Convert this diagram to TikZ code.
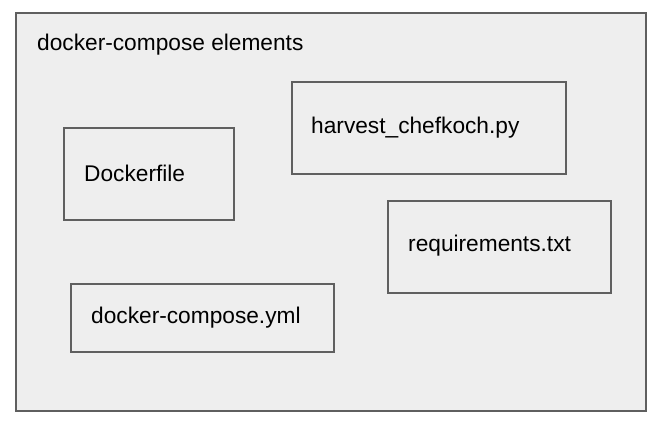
\documentclass[tikz,border=0pt]{standalone}
\usepackage{fontspec}
\setmainfont{Liberation Sans}
\definecolor{boxfill}{HTML}{EEEEEE}
\definecolor{boxline}{HTML}{5F5F5F}
\tikzset{
  px/.style={x=1pt,y=-1pt},
  frame/.style={draw=boxline,line width=2pt,fill=boxfill},
  elem/.style={draw=boxline,line width=2pt,fill=boxfill,rectangle,inner sep=0pt},
  lbl/.style={anchor=west,inner sep=0pt,font=\fontsize{22.7}{26}\selectfont,text=black}
}
\begin{document}
\begin{tikzpicture}[px]
\useasboundingbox (0,0) rectangle (661,424);
\node[frame,minimum width=630pt,minimum height=398pt,anchor=north west,inner sep=0pt] (outer) at (15,12) {};
\node[lbl] (title) at (37,45) {docker-compose elements};
\node[elem,minimum width=170pt,minimum height=92pt,anchor=north west] (dockerfile) at (62.5,127) {};
\node[lbl] (dockerfileText) at (84,173) {Dockerfile};
\node[elem,minimum width=274pt,minimum height=92pt,anchor=north west] (harvest) at (290.5,81) {};
\node[lbl] (harvestText) at (311,128) {harvest\_chefkoch.py};
\node[elem,minimum width=223pt,minimum height=92pt,anchor=north west] (req) at (386.5,200) {};
\node[lbl] (reqText) at (408,246) {requirements.txt};
\node[elem,minimum width=263pt,minimum height=68pt,anchor=north west] (compose) at (69.5,283) {};
\node[lbl] (composeText) at (91,318) {docker-compose.yml};
\end{tikzpicture}
\end{document}
